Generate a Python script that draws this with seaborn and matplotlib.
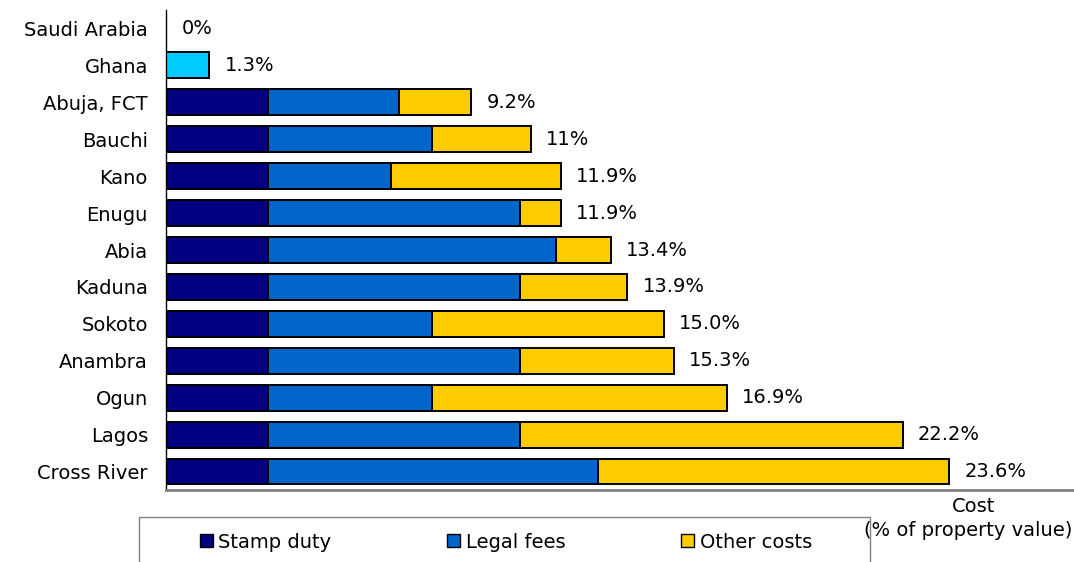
import matplotlib
matplotlib.use("Agg")
import matplotlib.pyplot as plt
from matplotlib.patches import Patch, Rectangle
import seaborn as sns
import pandas as pd

# Categories, top to bottom
places = ["Saudi Arabia", "Ghana", "Abuja, FCT", "Bauchi", "Kano", "Enugu", "Abia",
          "Kaduna", "Sokoto", "Anambra", "Ogun", "Lagos", "Cross River"]

# Nigerian states broken down by cost component (% of property value)
states = ["Abuja, FCT", "Bauchi", "Kano", "Enugu", "Abia", "Kaduna", "Sokoto",
          "Anambra", "Ogun", "Lagos", "Cross River"]
stamp_duty = [3.07, 3.07, 3.07, 3.07, 3.07, 3.07, 3.07, 3.07, 3.07, 3.07, 3.07]
legal_fees = [3.95, 4.94, 3.71, 7.60, 8.68, 7.60, 4.94, 7.60, 4.94, 7.60, 9.95]
other_costs = [2.18, 2.99, 5.12, 1.23, 1.65, 3.23, 6.99, 4.63, 8.89, 11.53, 10.58]

# Comparator countries (single total)
comparators = ["Saudi Arabia", "Ghana"]
comparator_total = [0.0, 1.3]

# Value labels for each row
value_labels = ["0%", "1.3%", "9.2%", "11%", "11.9%", "11.9%", "13.4%", "13.9%",
                "15.0%", "15.3%", "16.9%", "22.2%", "23.6%"]

C_STAMP = "#000080"
C_LEGAL = "#0066CC"
C_OTHER = "#FFCC00"
C_COMP = "#00CCFF"

sns.set_theme(style="white")
plt.rcParams["font.family"] = ["DejaVu Sans"]
plt.rcParams["text.color"] = "black"
plt.rcParams["legend.labelcolor"] = "black"

FS = 14

df = pd.DataFrame({"place": states, "stamp": stamp_duty, "legal": legal_fees,
                   "other": other_costs})
df["to_legal"] = df["stamp"] + df["legal"]
df["to_other"] = df["to_legal"] + df["other"]
comp = pd.DataFrame({"place": comparators, "total": comparator_total})

W, H = 1074, 562
fig = plt.figure(figsize=(W / 100, H / 100), dpi=100)
ax = fig.add_axes([166 / W, 72 / H, 908 / W, 480 / H])

bar_kw = dict(orient="h", order=places, width=0.7, edgecolor="black",
              linewidth=1.4, ax=ax, errorbar=None)
sns.barplot(data=df, x="to_other", y="place", color=C_OTHER, saturation=1, **bar_kw)
sns.barplot(data=df, x="to_legal", y="place", color=C_LEGAL, saturation=1, **bar_kw)
sns.barplot(data=df, x="stamp", y="place", color=C_STAMP, saturation=1, **bar_kw)
sns.barplot(data=comp[comp["total"] > 0], x="total", y="place", color=C_COMP,
            saturation=1, **bar_kw)

totals = dict(zip(states, df["to_other"]))
totals.update(dict(zip(comparators, comparator_total)))
for i, (name, lab) in enumerate(zip(places, value_labels)):
    ax.annotate(lab, xy=(totals[name], i), xytext=(11, 0), textcoords="offset points",
                ha="left", va="center", fontsize=FS, color="black")

ax.set_xlim(0, 908 / 33.18)
ax.set_ylim(len(places) - 0.5, -0.5)
ax.set_xlabel("")
ax.set_ylabel("")
ax.set_xticks([])
ax.tick_params(axis="y", length=0, pad=13, labelsize=FS, labelcolor="black")
for s in ["top", "right"]:
    ax.spines[s].set_visible(False)
ax.spines["left"].set_color("black")
ax.spines["left"].set_linewidth(1.0)
ax.spines["bottom"].set_color("#808080")
ax.spines["bottom"].set_linewidth(2.0)

fig.text(974 / W, 1 - 506 / H, "Cost", ha="center", va="center", fontsize=FS,
         color="black")
fig.text(968 / W, 1 - 530 / H, "(% of property value)", ha="center", va="center",
         fontsize=FS, color="black")

# Legend box
fig.patches.append(Rectangle((139 / W, -0.05), (870 - 139) / W, 0.05 + (562 - 517) / H,
                             transform=fig.transFigure, fill=False,
                             edgecolor="#808080", linewidth=1.0))
handles = [Patch(facecolor=C_STAMP, edgecolor="black", label="Stamp duty"),
           Patch(facecolor=C_LEGAL, edgecolor="black", label="Legal fees"),
           Patch(facecolor=C_OTHER, edgecolor="black", label="Other costs")]
fig.legend(handles=handles, loc="center left", bbox_to_anchor=(200 / W, 1 - 542 / H),
           ncol=3, frameon=False, fontsize=FS, handlelength=0.65, handleheight=0.65,
           handletextpad=0.3, columnspacing=5.95, borderaxespad=0, borderpad=0)

fig.savefig("out.png", dpi=100)
